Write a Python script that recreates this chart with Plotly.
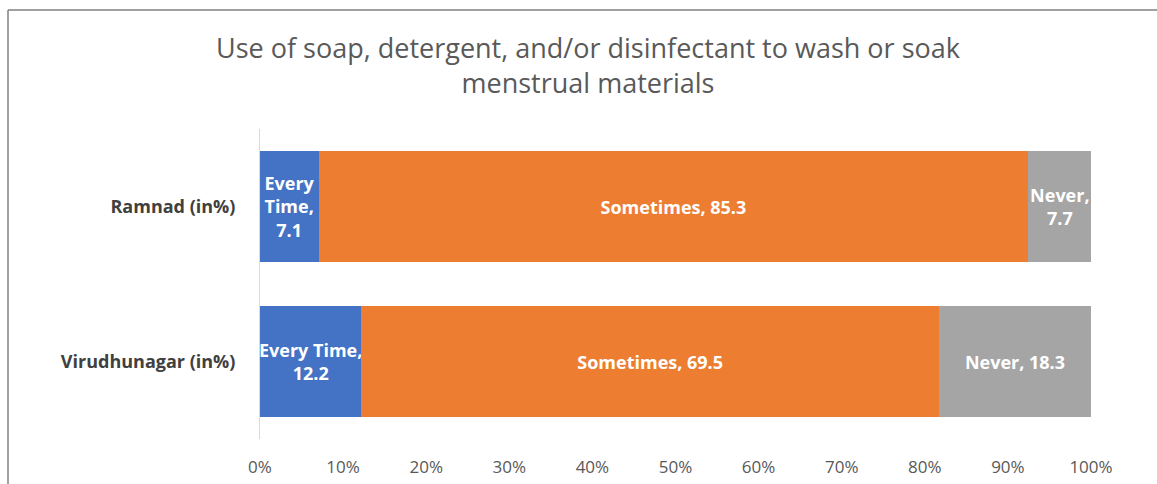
import plotly.graph_objects as go

# Survey results per district (percent of respondents)
districts = ["Ramnad (in%)", "Virudhunagar (in%)"]
responses = ["Every Time", "Sometimes", "Never"]
every_time = [7.1, 12.2]
sometimes = [85.3, 69.5]
never = [7.7, 18.3]

# Label text per segment, with line breaks where the segment is narrow
every_time_text = ["Every<br>Time,<br>7.1", "Every Time,<br>12.2"]
sometimes_text = ["Sometimes, 85.3", "Sometimes, 69.5"]
never_text = ["Never,<br>7.7", "Never, 18.3"]

tick_values = [0, 10, 20, 30, 40, 50, 60, 70, 80, 90, 100]
tick_labels = ["0%", "10%", "20%", "30%", "40%", "50%", "60%", "70%", "80%", "90%", "100%"]

colors = ["#4472C4", "#ED7D31", "#A5A5A5"]
series_values = [every_time, sometimes, never]
series_text = [every_time_text, sometimes_text, never_text]

FONT = "Open Sans"

fig = go.Figure()
for name, vals, txt, col in zip(responses, series_values, series_text, colors):
    fig.add_trace(go.Bar(
        y=districts,
        x=vals,
        name=name,
        orientation="h",
        marker=dict(color=col, line=dict(width=0)),
        text=txt,
        textposition="inside",
        insidetextanchor="middle",
        constraintext="none",
        textangle=0,
        textfont=dict(family=FONT, size=18, color="white", weight="bold"),
        hoverinfo="x+name",
    ))

W, H = 1157, 484
ml, mr, mt, mb = 260, 66, 129, 45
pw = W - ml - mr
ph = H - mt - mb


def px_x(p):
    return (p - ml) / pw


def px_y(p):
    return (H - mb - p) / ph


fig.update_layout(
    width=W,
    height=H,
    barmode="stack",
    bargap=0.284,
    showlegend=False,
    paper_bgcolor="white",
    plot_bgcolor="white",
    margin=dict(l=ml, r=mr, t=mt, b=mb, autoexpand=False),
    title=dict(
        text="Use of soap, detergent, and/or disinfectant to wash or soak<br>menstrual materials",
        x=588 / W,
        xref="container",
        xanchor="center",
        y=1 - 58 / H,
        yref="container",
        yanchor="middle",
        font=dict(family=FONT, size=27, color="#595959"),
    ),
    xaxis=dict(
        range=[0, 100],
        tickvals=tick_values,
        ticktext=tick_labels,
        showgrid=False,
        zeroline=False,
        showline=False,
        ticks="",
        ticklabelstandoff=16,
        automargin=False,
        tickfont=dict(family=FONT, size=17, color="#595959"),
        fixedrange=True,
    ),
    yaxis=dict(
        autorange="reversed",
        showgrid=False,
        zeroline=False,
        showline=True,
        linecolor="#D9D9D9",
        linewidth=1,
        ticks="",
        ticklabelstandoff=20,
        automargin=False,
        tickfont=dict(family=FONT, size=18, color="#404040", weight="bold"),
        fixedrange=True,
    ),
    shapes=[
        dict(type="line", xref="paper", yref="paper",
             x0=px_x(8), x1=px_x(8), y0=px_y(10), y1=px_y(490),
             line=dict(color="#808080", width=1.5)),
        dict(type="line", xref="paper", yref="paper",
             x0=px_x(8), x1=px_x(1165), y0=px_y(10), y1=px_y(10),
             line=dict(color="#808080", width=1.5)),
    ],
)

fig.write_html("out.html")
